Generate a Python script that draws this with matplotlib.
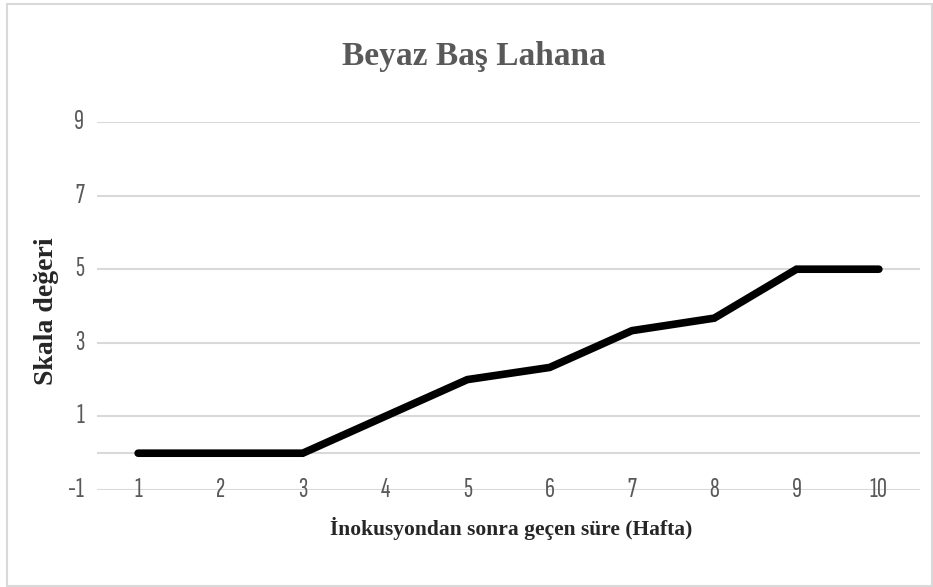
import matplotlib
matplotlib.use("Agg")
import matplotlib.pyplot as plt
from matplotlib.patches import Rectangle
from matplotlib.transforms import blended_transform_factory

weeks = [1, 2, 3, 4, 5, 6, 7, 8, 9, 10]
scale_values = [0, 0, 0, 1, 2, 2.33, 3.33, 3.67, 5, 5]
y_ticks = [-1, 1, 3, 5, 7, 9]
title = "Beyaz Baş Lahana"
x_label = "İnokusyondan sonra geçen süre (Hafta)"
y_label = "Skala değeri"

W, H = 933, 587
fig = plt.figure(figsize=(W / 100, H / 100), dpi=100)
ax = fig.add_axes([97 / W, 1 - 490 / H, (920 - 97) / W, (490 - 122) / H])

grid_c = "#d9d9d9"
text_c = "#595959"
tick_font = ["Sofia Sans Extra Condensed", "Roboto Condensed", "DejaVu Sans"]
serif = ["Liberation Serif", "DejaVu Serif"]

ax.set_xlim(0.5, 10.5)
ax.set_ylim(-1, 9)
for v in y_ticks:
    ax.axhline(v, color=grid_c, lw=1.5, zorder=1)
ax.axhline(0, color=grid_c, lw=1.5, zorder=1)

ax.plot(weeks, scale_values, color="black", lw=5.5, solid_capstyle="round",
        solid_joinstyle="miter", zorder=3)

for s in ax.spines.values():
    s.set_visible(False)
ax.set_xticks([])
ax.set_yticks([])

for w in weeks:
    ax.text(w, -1, str(w), ha="center", va="center", fontsize=20,
            family=tick_font, weight="light", color=text_c, zorder=2)
ytrans = blended_transform_factory(fig.transFigure, ax.transData)
for v in y_ticks:
    ax.text(84 / W, v, str(v), ha="right", va="center", fontsize=20,
            family=tick_font, weight="light", color=text_c, transform=ytrans)

fig.text(474 / W, 1 - 57 / H, title, ha="center", va="center", fontsize=24,
         family=serif, weight="bold", color=text_c)
fig.text(511 / W, 1 - 528 / H, x_label, ha="center", va="center", fontsize=15.5,
         family=serif, weight="bold", color="#262626")
fig.text(47 / W, 1 - 311 / H, y_label, ha="center", va="center", fontsize=20,
         family=serif, weight="bold", color="#262626", rotation=90)

fig.patches.append(Rectangle((7 / W, 1 - 586 / H), (932 - 7) / W, (586 - 4) / H,
                             transform=fig.transFigure, fill=False,
                             edgecolor=grid_c, lw=1.5))

fig.savefig("out.png", dpi=100)
